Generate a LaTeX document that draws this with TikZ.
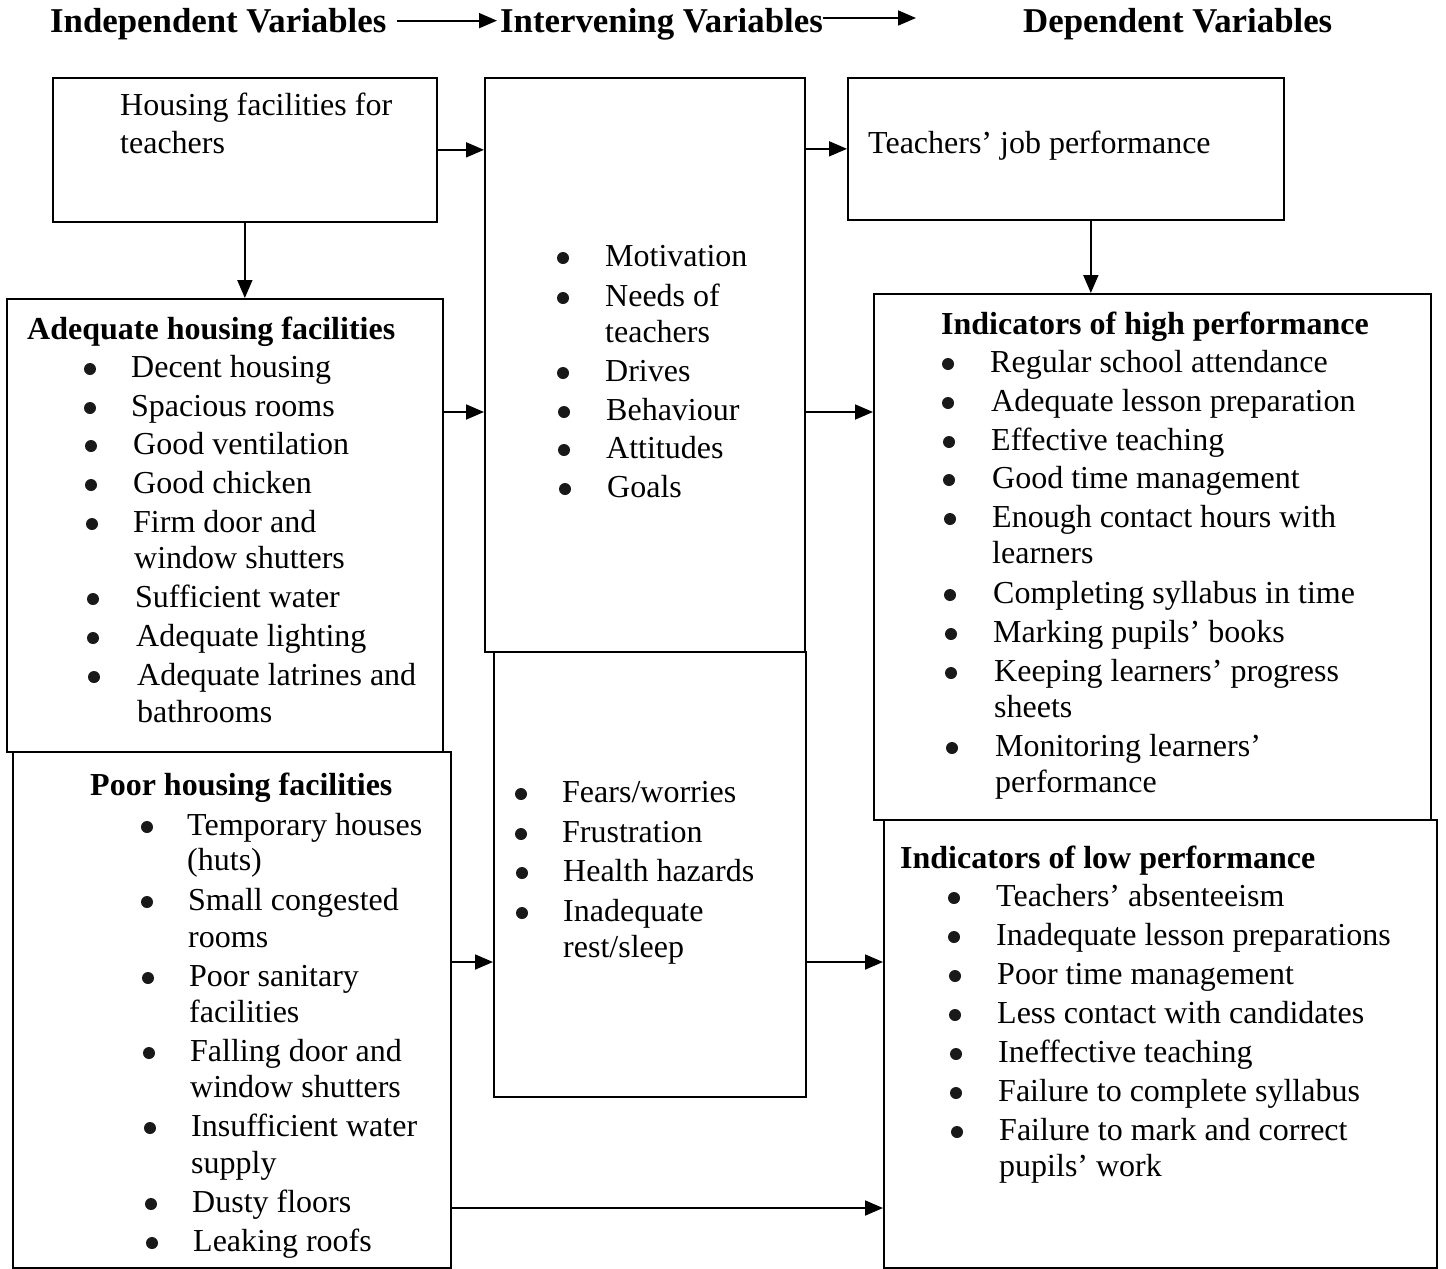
\documentclass[tikz,border=0pt]{standalone}
\usepackage{fontspec}
\setmainfont{Liberation Serif}
\usetikzlibrary{arrows.meta}
\newcommand\bodyfont{\fontsize{32}{38}\selectfont}
\newcommand\hdrfont{\fontsize{34.8}{40}\selectfont\bfseries}
\tikzset{
  box/.style={draw, line width=1.7pt, rectangle, inner sep=0pt, anchor=north west},
  txt/.style={anchor=base west, inner sep=0pt, font=\bodyfont},
  bul/.style={circle, fill=black!90, inner sep=0pt, minimum size=12pt},
  ttl/.style={anchor=base west, inner sep=0pt, font=\bodyfont\bfseries},
  hdr/.style={anchor=base west, inner sep=0pt, font=\hdrfont},
  arr/.style={-{Triangle[length=18pt,width=15pt]}, line width=1.8pt},
}
% \bitem{name}{x bullet}{x text}{baseline y}{text}
\newcommand\bitem[5]{\node[bul] (#1b) at (#2,#4-8) {}; \node[txt] (#1) at (#3,#4) {#5};}
\begin{document}
\begin{tikzpicture}[x=1pt,y=-1pt]
\useasboundingbox (0,0) rectangle (1446,1269);
\fill[white] (0,0) rectangle (1446,1269);

% headers
\node[hdr] (hI) at (50,32) {Independent Variables};
\node[hdr] (hM) at (500,32) {Intervening Variables};
\node[hdr] (hD) at (1023,32) {Dependent Variables};
\coordinate (h2end) at (916,18);
\draw[arr] ([xshift=10pt,yshift=3pt]hI.east) -- ([xshift=-3pt,yshift=3pt]hI.east -| hM.west);
\draw[arr] (hM.east |- h2end) -- (h2end);

% boxes
\node[box, minimum width=384pt, minimum height=144pt] (A) at (52,77) {};
\node[box, minimum width=320pt, minimum height=574pt] (B) at (484,77) {};
\node[box, minimum width=436pt, minimum height=142pt] (C) at (847,77) {};
\node[box, minimum width=436pt, minimum height=453pt] (D) at (6,298) {};
\node[box, minimum width=438pt, minimum height=516pt] (E) at (12,751) {};
\node[box, minimum width=312pt, minimum height=445pt] (F) at (493,651) {};
\node[box, minimum width=557pt, minimum height=526pt] (G) at (873,293) {};
\node[box, minimum width=553pt, minimum height=448pt] (H) at (883,819) {};

% box A
\node[txt] (a1) at (120,115) {Housing facilities for};
\node[txt] (a2) at (120,153) {teachers};
% box C
\node[txt] (c1) at (868,153) {Teachers’ job performance};

% box B
\bitem{b1}{563}{605}{266}{Motivation}
\bitem{b2}{563}{605}{306}{Needs of}
\node[txt] (b2c) at (605,342) {teachers};
\bitem{b3}{563}{605}{381}{Drives}
\bitem{b4}{564}{606}{420}{Behaviour}
\bitem{b5}{564}{606}{458}{Attitudes}
\bitem{b6}{565}{607}{497}{Goals}

% box D
\node[ttl] (dt) at (27,339) {Adequate housing facilities};
\bitem{d1}{90}{131}{377}{Decent housing}
\bitem{d2}{90}{131}{416}{Spacious rooms}
\bitem{d3}{91}{133}{454}{Good ventilation}
\bitem{d4}{91}{133}{493}{Good chicken}
\bitem{d5}{92}{133}{532}{Firm door and}
\node[txt] (d5c) at (134,568) {window shutters};
\bitem{d6}{93}{135}{607}{Sufficient water}
\bitem{d7}{93}{136}{646}{Adequate lighting}
\bitem{d8}{94}{137}{685}{Adequate latrines and}
\node[txt] (d8c) at (137,722) {bathrooms};

% box E
\node[ttl] (et) at (90,795) {Poor housing facilities};
\bitem{e1}{147}{187}{835}{Temporary houses}
\node[txt] (e1c) at (187,870) {(huts)};
\bitem{e2}{147}{188}{910}{Small congested}
\node[txt] (e2c) at (188,947) {rooms};
\bitem{e3}{148}{189}{986}{Poor sanitary}
\node[txt] (e3c) at (189,1022) {facilities};
\bitem{e4}{149}{190}{1061}{Falling door and}
\node[txt] (e4c) at (190,1097) {window shutters};
\bitem{e5}{150}{191}{1136}{Insufficient water}
\node[txt] (e5c) at (191,1173) {supply};
\bitem{e6}{151}{192}{1212}{Dusty floors}
\bitem{e7}{152}{193}{1251}{Leaking roofs}

% box F
\bitem{f1}{521}{562}{802}{Fears/worries}
\bitem{f2}{521}{562}{842}{Frustration}
\bitem{f3}{522}{563}{881}{Health hazards}
\bitem{f4}{522}{563}{921}{Inadequate}
\node[txt] (f4c) at (563,957) {rest/sleep};

% box G
\node[ttl] (gt) at (941,334) {Indicators of high performance};
\bitem{g1}{948}{990}{372}{Regular school attendance}
\bitem{g2}{948}{991}{411}{Adequate lesson preparation}
\bitem{g3}{949}{991}{450}{Effective teaching}
\bitem{g4}{949}{992}{488}{Good time management}
\bitem{g5}{950}{992}{527}{Enough contact hours with}
\node[txt] (g5c) at (992,563) {learners};
\bitem{g6}{950}{993}{603}{Completing syllabus in time}
\bitem{g7}{951}{993}{642}{Marking pupils’ books}
\bitem{g8}{951}{994}{681}{Keeping learners’ progress}
\node[txt] (g8c) at (994,717) {sheets};
\bitem{g9}{952}{995}{756}{Monitoring learners’}
\node[txt] (g9c) at (995,792) {performance};

% box H
\node[ttl] (ht) at (900,868) {Indicators of low performance};
\bitem{h1}{954}{996}{906}{Teachers’ absenteeism}
\bitem{h2}{954}{996}{945}{Inadequate lesson preparations}
\bitem{h3}{955}{997}{984}{Poor time management}
\bitem{h4}{955}{997}{1023}{Less contact with candidates}
\bitem{h5}{956}{998}{1062}{Ineffective teaching}
\bitem{h6}{956}{998}{1101}{Failure to complete syllabus}
\bitem{h7}{957}{999}{1140}{Failure to mark and correct}
\node[txt] (h7c) at (999,1176) {pupils’ work};

% connectors
\draw[arr] (A.east) -- (A.east -| B.west);
\draw[arr] (B.east |- C.west) -- (C.west);
\draw[arr] (A.south) -- (A.south |- D.north);
\draw[arr] ([xshift=25pt]C.south) -- ([xshift=25pt]C.south |- G.north);
\draw[arr] ([yshift=-114pt]D.north east) -- ([yshift=-114pt]D.north east -| B.west);
\draw[arr] ([yshift=-114pt]D.north east -| B.east) -- ([yshift=-114pt]D.north east -| G.west);
\draw[arr] ([yshift=-211pt]E.north east) -- ([yshift=-211pt]E.north east -| F.west);
\draw[arr] ([yshift=-211pt]E.north east -| F.east) -- ([yshift=-211pt]E.north east -| H.west);
\draw[arr] ([yshift=-457pt]E.north east) -- ([yshift=-457pt]E.north east -| H.west);
\end{tikzpicture}
\end{document}
